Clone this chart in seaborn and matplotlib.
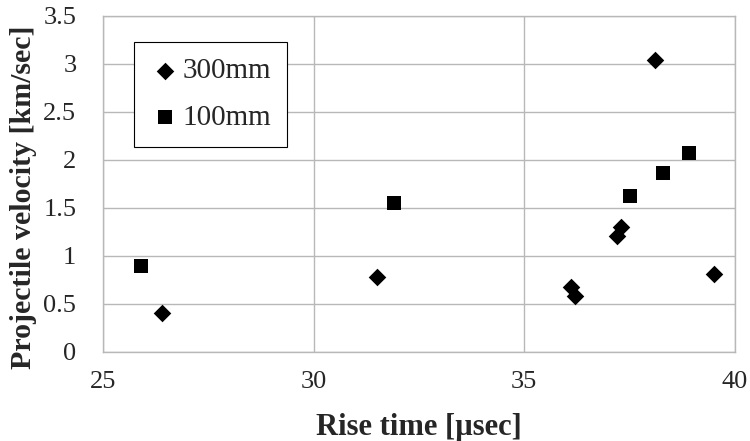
import matplotlib
matplotlib.use("Agg")
import matplotlib.pyplot as plt
import seaborn as sns
import pandas as pd

# rise time [usec] vs projectile velocity [km/sec]
rise_300 = [26.4, 31.5, 36.1, 36.2, 37.2, 37.3, 38.1, 39.5]
vel_300 = [0.41, 0.78, 0.68, 0.58, 1.21, 1.30, 3.04, 0.81]
rise_100 = [25.9, 31.9, 37.5, 38.3, 38.9]
vel_100 = [0.89, 1.55, 1.62, 1.86, 2.07]

x_ticks = [25, 30, 35, 40]
y_ticks = [0, 0.5, 1, 1.5, 2, 2.5, 3, 3.5]
y_tick_labels = ['0', '0.5', '1', '1.5', '2', '2.5', '3', '3.5']

sns.set_style("white")
plt.rcParams['font.family'] = ['Liberation Serif', 'DejaVu Serif']

df300 = pd.DataFrame({'rise': rise_300, 'vel': vel_300})
df100 = pd.DataFrame({'rise': rise_100, 'vel': vel_100})

fig = plt.figure(figsize=(7.5, 4.41), dpi=100)
ax = fig.add_axes([0.137, 0.202, 0.843, 0.762])

sns.scatterplot(data=df300, x='rise', y='vel', marker='D', s=80, color='black',
                edgecolor='black', linewidth=0, label='300mm', ax=ax, zorder=3)
sns.scatterplot(data=df100, x='rise', y='vel', marker='s', s=100, color='black',
                edgecolor='black', linewidth=0, label='100mm', ax=ax, zorder=3)

ax.set_xlim(25, 40)
ax.set_ylim(0, 3.5)
ax.set_xticks(x_ticks)
ax.set_yticks(y_ticks)
ax.set_yticklabels(y_tick_labels)
ax.grid(True, color='#b8b8b8', linewidth=1)
for sp in ax.spines.values():
    sp.set_color('#b8b8b8')
    sp.set_linewidth(1)
ax.tick_params(axis='both', length=0, labelsize=19)
ax.tick_params(axis='x', pad=14)
ax.tick_params(axis='y', pad=19)

ax.set_xlabel('Rise time [µsec]', fontsize=22, fontweight='bold', labelpad=14)
ax.set_ylabel('Projectile velocity [km/sec]', fontsize=21.5, fontweight='bold')
ax.yaxis.set_label_coords(-0.104, 0.46)

leg = ax.legend(loc='upper left', bbox_to_anchor=(0.05, 0.923), fontsize=21,
                frameon=True, fancybox=False, edgecolor='black', framealpha=1,
                labelspacing=0.7, handletextpad=0.1, borderpad=0.55, handlelength=1.0,
                borderaxespad=0)
leg.get_frame().set_linewidth(0.8)

fig.savefig('out.png', dpi=100)
